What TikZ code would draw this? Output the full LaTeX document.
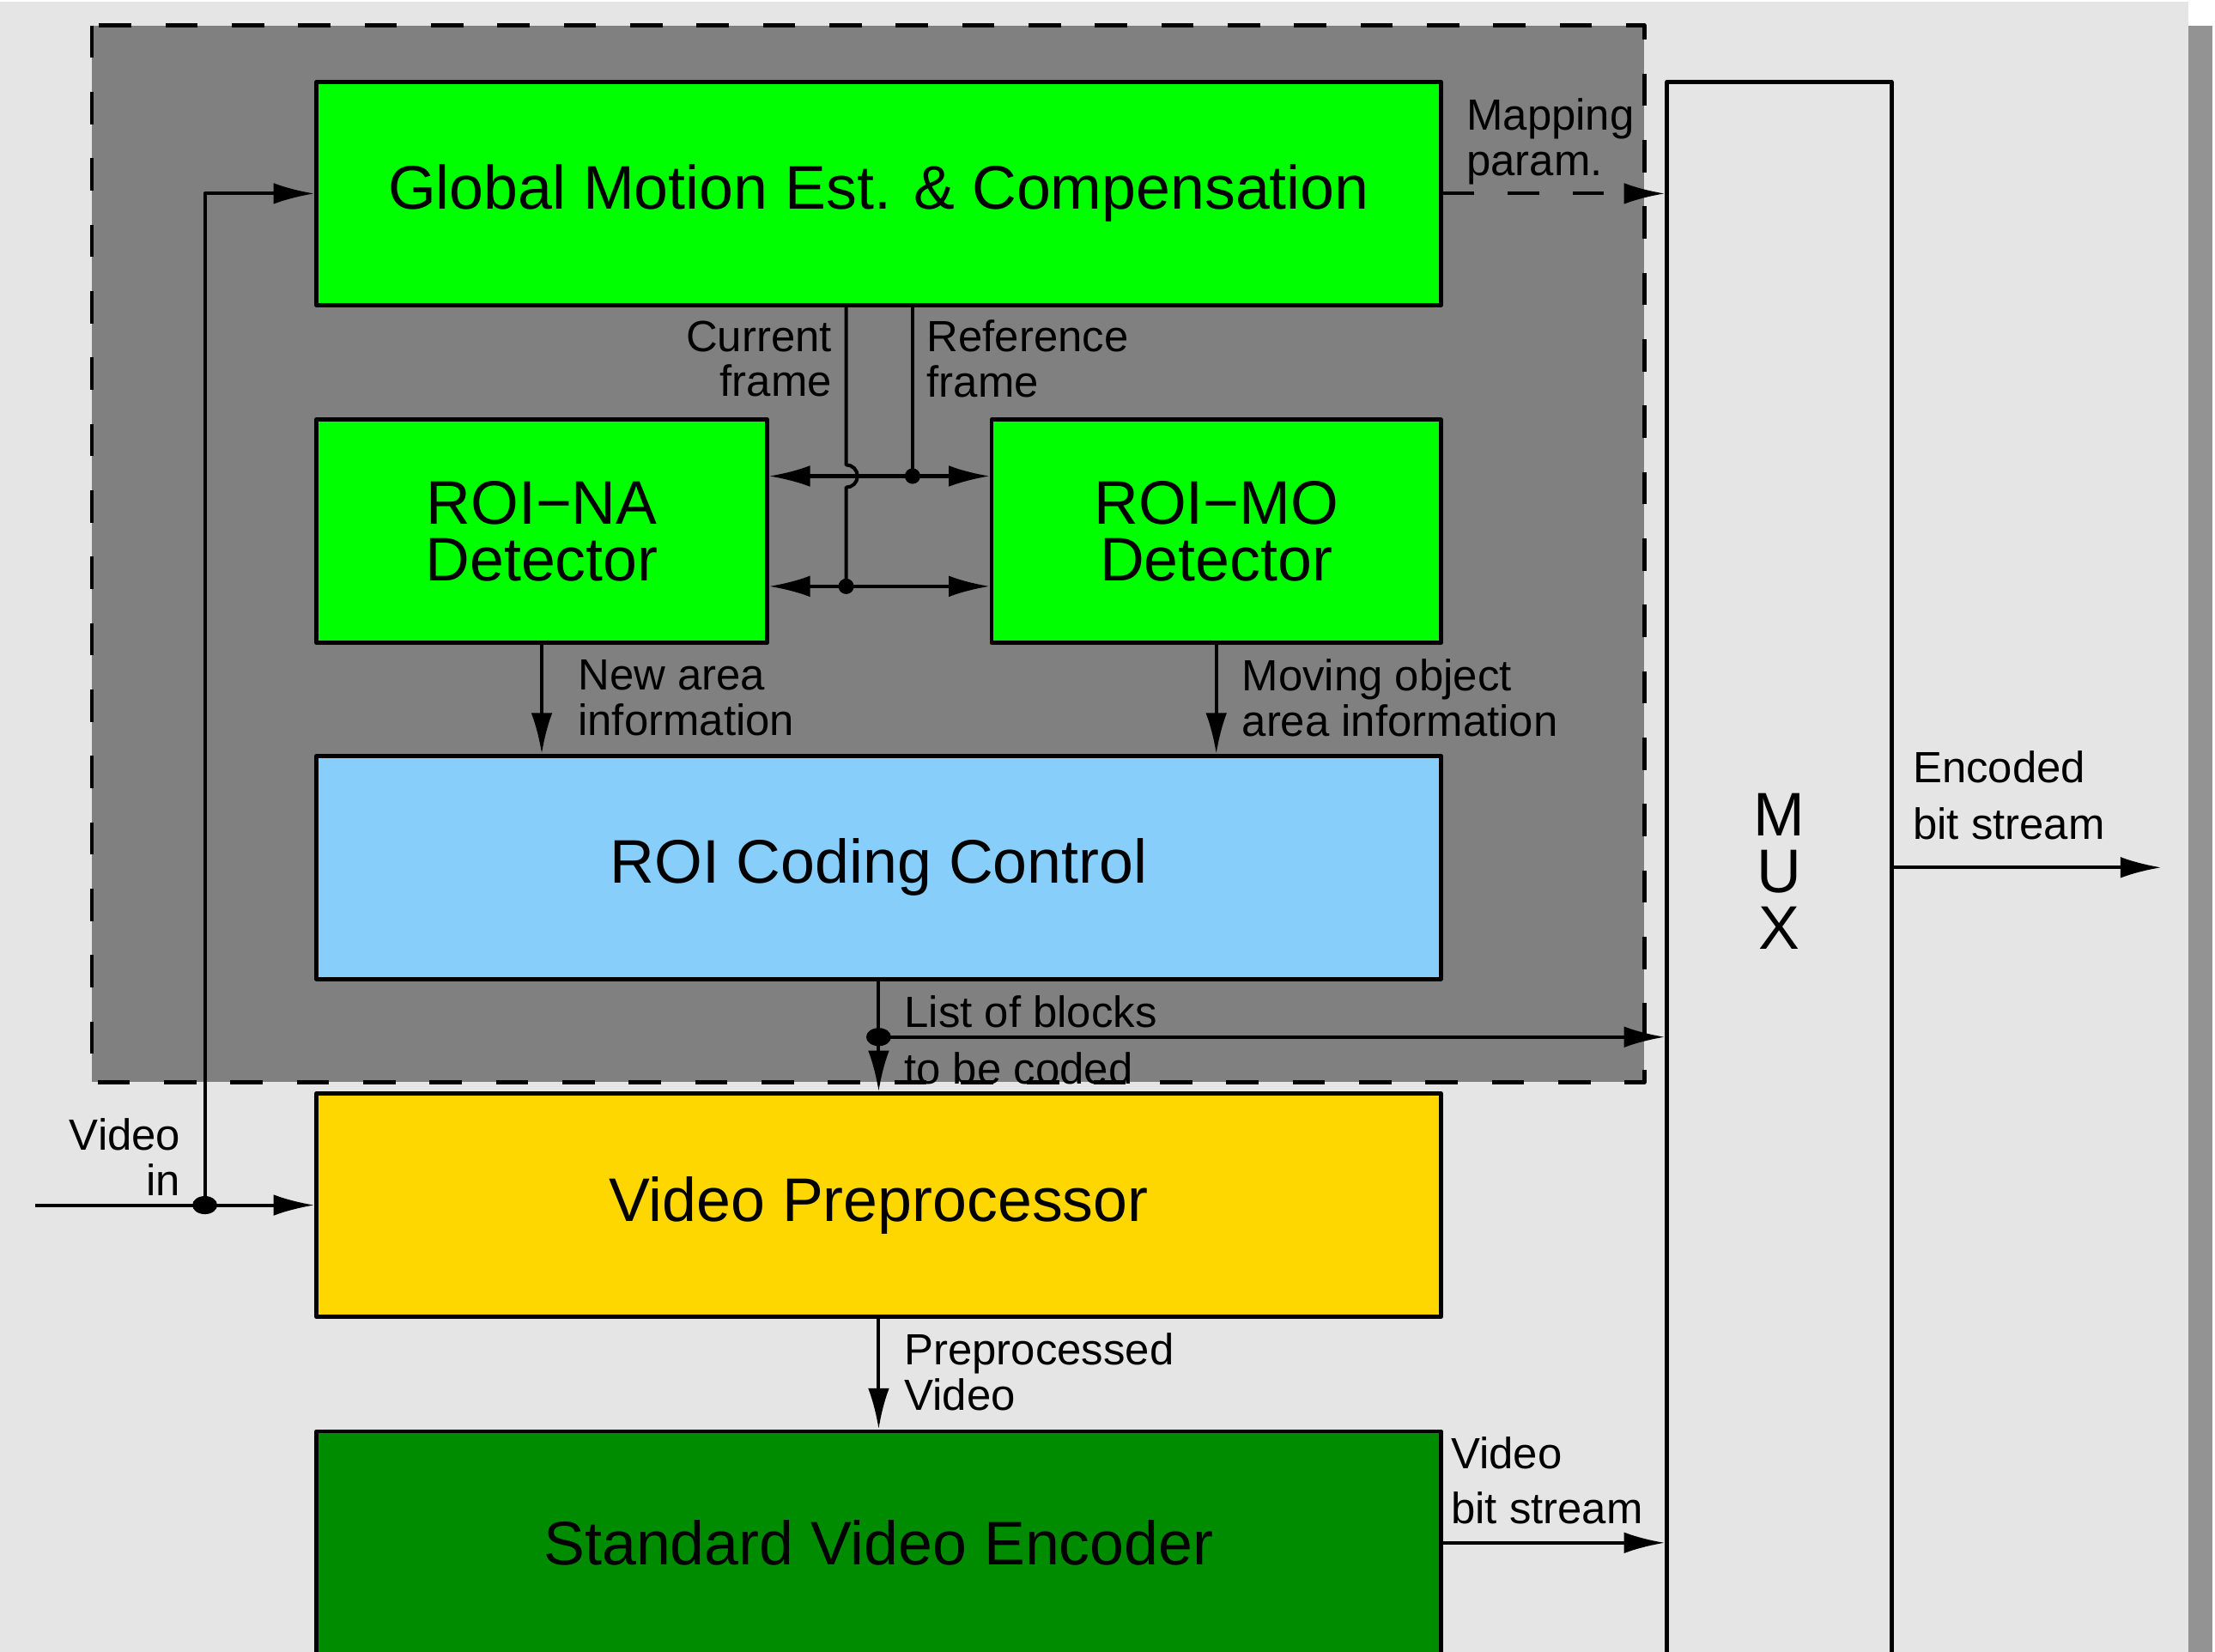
\documentclass[tikz,border=0pt]{standalone}
\usepackage{fontspec}
\setmainfont{Liberation Sans}
\usetikzlibrary{arrows.meta}
\definecolor{bgpage}{HTML}{E5E5E5}
\definecolor{edgebar}{HTML}{939393}
\definecolor{roiarea}{HTML}{808080}
\definecolor{roigreen}{HTML}{00FF00}
\definecolor{ctrlblue}{HTML}{87CEFA}
\definecolor{preyellow}{HTML}{FFD700}
\definecolor{encgreen}{HTML}{008C00}
\tikzset{
  blk/.style={draw, line width=0.8pt, inner sep=0pt, minimum width=7.96cm, minimum height=1.58cm,
    font=\fontsize{12.4}{11.4}\selectfont, align=center},
  lbl/.style={inner sep=0pt, font=\fontsize{8.8}{9.1}\selectfont},
}
\begin{document}
\begin{tikzpicture}[line join=round, line width=0.7pt, >={Latex[length=2.9mm,width=1.5mm]}]
  \useasboundingbox (0,0) rectangle (15.68,-11.69);
  \clip (0,0) rectangle (15.68,-11.69);
  % page
  \fill[bgpage] (0,-0.01) rectangle (15.49,-11.69);
  \fill[edgebar] (15.49,-0.18) rectangle (15.66,-11.69);
  % ROI part
  \draw[fill=roiarea, line width=0.8pt, dash pattern=on 2.3mm off 2.4mm] (0.65,-0.18) rectangle (11.64,-7.66);
  % blocks
  \node[blk, fill=roigreen] (gmec) at (6.22,-1.37) {Global Motion Est. \& Compensation};
  \node[blk, fill=roigreen, minimum width=3.19cm] (roina) at (3.835,-3.76) {ROI−NA\\Detector};
  \node[blk, fill=roigreen, minimum width=3.18cm] (roimo) at (8.61,-3.76) {ROI−MO\\Detector};
  \node[blk, fill=ctrlblue] (roicc) at (6.22,-6.14) {ROI Coding Control};
  \node[blk, fill=preyellow] (vpp) at (6.22,-8.53) {Video Preprocessor};
  \node[blk, fill=encgreen] (sve) at (6.22,-10.92) {Standard Video Encoder};
  \node[blk, fill=bgpage, minimum width=1.59cm, minimum height=11.18cm] (mux) at (12.595,-6.17) {M\\U\\X};
  % video in
  \coordinate (vin) at (0.25,-8.53);
  \coordinate (vsplit) at (1.45,-8.53);
  \draw (vin) -- (vsplit);
  \draw[->] (vsplit) -- (vpp.west);
  \draw[->] (vsplit) |- (gmec.west);
  \fill (vsplit) ellipse[x radius=0.088, y radius=0.064];
  \node[lbl, align=right, anchor=east] (vinlbl) at (1.29,-8.19) {Video\\in};
  % mapping parameters
  \draw[->, dash pattern=on 2.2mm off 2.4mm] (gmec.east) -- (gmec.east -| mux.west);
  \node[lbl, align=left, anchor=west] (maplbl) at (10.37,-1.0) {Mapping\\param.};
  % current / reference frame
  \coordinate (curj) at (5.99,-4.15);
  \coordinate (refj) at (6.46,-3.37);
  \coordinate (hop) at (5.99,-3.37);
  \draw[<->] (roina.east |- refj) -- (roimo.west |- refj);
  \draw[<->] (roina.east |- curj) -- (roimo.west |- curj);
  \draw (gmec.south -| refj) -- (refj);
  \draw (gmec.south -| curj) -- ([yshift=0.08cm]hop) arc[start angle=90, end angle=-90, radius=0.08] -- (curj);
  \fill (refj) circle[radius=0.055];
  \fill (curj) circle[radius=0.055];
  \node[lbl, align=right, anchor=east] (curlbl) at (5.90,-2.54) {Current\\frame};
  \node[lbl, align=left, anchor=west] (reflbl) at (6.55,-2.54) {Reference\\frame};
  % detectors to control
  \draw[->] (roina.south) -- (roina.south |- roicc.north);
  \node[lbl, align=left, anchor=west] (nalbl) at (4.08,-4.94) {New area\\information};
  \draw[->] (roimo.south) -- (roimo.south |- roicc.north);
  \node[lbl, align=left, anchor=west] (molbl) at (8.78,-4.94) {Moving object\\area information};
  % list of blocks
  \coordinate (listj) at (6.22,-7.34);
  \draw[->] (roicc.south) -- (vpp.north);
  \draw[->] (listj) -- (listj -| mux.west);
  \fill (listj) ellipse[x radius=0.088, y radius=0.064];
  \node[lbl, anchor=west] (listlbl) at (6.39,-7.16) {List of blocks};
  \node[lbl, anchor=west] (codedlbl) at (6.39,-7.56) {to be coded};
  % preprocessed video
  \draw[->] (vpp.south) -- (sve.north);
  \node[lbl, align=left, anchor=west] (pplbl) at (6.39,-9.71) {Preprocessed\\Video};
  % encoder to mux
  \draw[->] (sve.east) -- (sve.east -| mux.west);
  \node[lbl, align=left, anchor=west] (vbslbl) at (10.26,-10.48) {Video\\[0.07cm]bit stream};
  % output
  \coordinate (bsout) at (15.30,-6.14);
  \draw[->] (mux.east |- bsout) -- (bsout);
  \node[lbl, align=left, anchor=west] (enclbl) at (13.53,-5.63) {Encoded\\[0.08cm]bit stream};
\end{tikzpicture}
\end{document}
